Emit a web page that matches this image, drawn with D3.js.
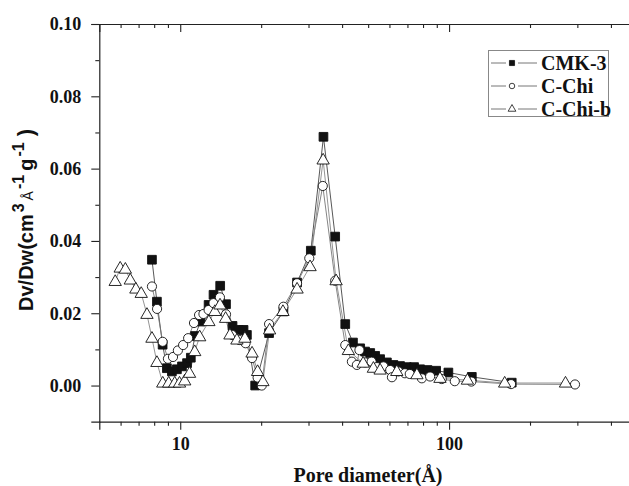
<!DOCTYPE html>
<html>
<head>
<meta charset="utf-8">
<script src="https://cdn.jsdelivr.net/npm/d3@7"></script>
<style>
  body { margin: 0; background: #fff; }
  svg { display: block; }
</style>
</head>
<body>
<script>
// constants
const w = 629;
const h = 486;

// data (pore diameter in Å, Dv/Dw)
const cmk3_d = [7.85, 8.19, 8.6, 8.92, 9.31, 9.72, 10.15, 10.6, 10.95, 11.35, 11.9, 12.75, 13.3, 14.08, 14.8, 15.65, 16.5, 17.2, 17.7, 19.0, 21.4, 24.2, 27.2, 30.6, 34.1, 37.7, 41.1, 43.9, 46.7, 48.7, 50.9, 53.1, 55.4, 58.7, 62.1, 65.7, 69.6, 74.1, 78.0, 83.1, 89.5, 99.4, 121.5, 171];
const cmk3_v = [0.0348, 0.0232, 0.0113, 0.0048, 0.0039, 0.0045, 0.0053, 0.0062, 0.0077, 0.0137, 0.0177, 0.0223, 0.0251, 0.0276, 0.0225, 0.0165, 0.0154, 0.0154, 0.0140, 0.0000, 0.0145, 0.0205, 0.0285, 0.0373, 0.0688, 0.0412, 0.0170, 0.0119, 0.0103, 0.0094, 0.0090, 0.0082, 0.0073, 0.0064, 0.0057, 0.0054, 0.0051, 0.0051, 0.0045, 0.0043, 0.0041, 0.0036, 0.0024, 0.0008];

const cchi_d = [7.85, 8.2, 8.6, 9.0, 9.4, 9.8, 10.25, 10.7, 11.25, 11.75, 12.2, 12.75, 13.3, 14.05, 14.8, 15.6, 16.6, 17.5, 18.5, 19.4, 20.1, 21.4, 24.2, 27.2, 30.2, 33.9, 37.7, 41.1, 43.5, 45.4, 46.4, 48.7, 51.5, 53.9, 57.0, 60.4, 61.3, 64.8, 68.5, 71.4, 79.2, 85, 93.9, 105, 121, 170, 294];
const cchi_v = [0.0274, 0.0212, 0.0121, 0.0074, 0.0079, 0.0097, 0.0112, 0.0131, 0.0173, 0.0195, 0.0198, 0.0209, 0.0228, 0.0244, 0.0197, 0.0140, 0.0126, 0.0117, 0.0076, 0.0022, 0.0000, 0.0170, 0.0218, 0.0283, 0.0352, 0.0552, 0.0290, 0.0112, 0.0066, 0.0057, 0.0098, 0.0064, 0.0066, 0.0051, 0.0053, 0.0043, 0.0023, 0.0039, 0.0034, 0.0032, 0.0020, 0.0025, 0.0018, 0.0012, 0.0011, 0.0004, 0.0003];

const cchib_d = [5.73, 5.98, 6.25, 6.52, 6.84, 7.16, 7.52, 7.85, 8.19, 8.61, 9.06, 9.54, 9.94, 10.39, 10.83, 11.32, 11.81, 12.78, 13.45, 14.06, 14.75, 15.31, 16.25, 17.4, 18.5, 19.4, 20.3, 21.5, 24.1, 27.2, 30.4, 34.0, 38.0, 42.2, 47.9, 52.3, 55.4, 63.9, 75.9, 92.5, 117, 161, 271];
const cchib_v = [0.0288, 0.0325, 0.0322, 0.0292, 0.0267, 0.0255, 0.0197, 0.0131, 0.0064, 0.0007, 0.0007, 0.0007, 0.0007, 0.0013, 0.0034, 0.0094, 0.0135, 0.0177, 0.0205, 0.0223, 0.0186, 0.0140, 0.0126, 0.0131, 0.0090, 0.0039, 0.0011, 0.0154, 0.0205, 0.0267, 0.0329, 0.0624, 0.0290, 0.0097, 0.0062, 0.0048, 0.0043, 0.0039, 0.0030, 0.0020, 0.0015, 0.0007, 0.0007];

const seriesNames = ["CMK-3", "C-Chi", "C-Chi-b"];
const xMajor = [10, 100];
const xMinor = [6, 7, 8, 9, 20, 30, 40, 50, 60, 70, 80, 90, 200, 300, 400];
const yMajor = [0.00, 0.02, 0.04, 0.06, 0.08, 0.10];
const yMinor = [0.01, 0.03, 0.05, 0.07, 0.09];

const series = [
  {name: seriesNames[0], d: cmk3_d, v: cmk3_v, sym: d3.symbolSquare, fill: "#111", line: "#444"},
  {name: seriesNames[1], d: cchi_d, v: cchi_v, sym: d3.symbolCircle, fill: "#fff", line: "#777"},
  {name: seriesNames[2], d: cchib_d, v: cchib_v, sym: d3.symbolTriangle, fill: "#fff", line: "#888"}
];

// scales
const xScale = d3.scaleLog().domain([5, 500]).range([99.3, 637]);
const yScale = d3.scaleLinear().domain([-0.01, 0.10]).range([421.7, 24]);

const svg = d3.select("body").append("svg")
  .attr("width", w)
  .attr("height", h);

// lines + points
const line = d3.line().x(p => xScale(p[0])).y(p => yScale(p[1]));

series.forEach(s => {
  const pts = s.d.map((d, i) => [d, s.v[i]]);
  svg.append("path")
    .attr("d", line(pts))
    .attr("fill", "none")
    .attr("stroke", s.line)
    .attr("stroke-width", 0.9);
});

series.forEach(s => {
  const pts = s.d.map((d, i) => [d, s.v[i]]);
  const size = s.sym === d3.symbolSquare ? 76 : (s.sym === d3.symbolCircle ? 66 : 66);
  svg.append("g").selectAll("path")
    .data(pts)
    .enter()
    .append("path")
    .attr("transform", p => "translate(" + xScale(p[0]) + "," + (yScale(p[1]) + (s.sym === d3.symbolTriangle ? 0.5 : 0)) + ")")
    .attr("d", d3.symbol().type(s.sym).size(size))
    .attr("fill", s.fill)
    .attr("stroke", "#111")
    .attr("stroke-width", 0.9);
});

// axes
const tickFont = g => g.selectAll("text")
  .attr("font-family", "'Liberation Serif', 'Times New Roman', serif")
  .attr("font-weight", "bold")
  .attr("font-size", 18)
  .attr("fill", "#111");

const axisStyle = g => {
  g.select(".domain").attr("stroke", "#222").attr("stroke-width", 1.2);
  g.selectAll(".tick line").attr("stroke", "#222").attr("stroke-width", 1.1);
};

// bottom
svg.append("g")
  .attr("transform", "translate(0," + yScale(-0.01) + ")")
  .call(d3.axisBottom(xScale).tickValues(xMajor).tickSize(8).tickPadding(8).tickFormat(d3.format("d")))
  .call(axisStyle)
  .call(tickFont);
svg.append("g")
  .attr("transform", "translate(0," + yScale(-0.01) + ")")
  .call(d3.axisBottom(xScale).tickValues(xMinor).tickSize(4).tickFormat(""))
  .call(g => g.select(".domain").remove())
  .call(axisStyle);

// top (ticks inside)
svg.append("g")
  .attr("transform", "translate(0," + yScale(0.10) + ")")
  .call(d3.axisTop(xScale).tickValues(xMajor).tickSize(-8).tickFormat(""))
  .call(axisStyle);
svg.append("g")
  .attr("transform", "translate(0," + yScale(0.10) + ")")
  .call(d3.axisTop(xScale).tickValues(xMinor).tickSize(-4).tickFormat(""))
  .call(g => g.select(".domain").remove())
  .call(axisStyle);

// left
svg.append("g")
  .attr("transform", "translate(" + xScale(5) + ",0)")
  .call(d3.axisLeft(yScale).tickValues(yMajor).tickSize(8).tickPadding(10).tickFormat(d3.format(".2f")))
  .call(axisStyle)
  .call(tickFont);
svg.append("g")
  .attr("transform", "translate(" + xScale(5) + ",0)")
  .call(d3.axisLeft(yScale).tickValues(yMinor).tickSize(4).tickFormat(""))
  .call(g => g.select(".domain").remove())
  .call(axisStyle);

// axis titles
svg.append("text")
  .attr("x", 368)
  .attr("y", 482)
  .attr("text-anchor", "middle")
  .attr("font-family", "'Liberation Serif', 'Times New Roman', serif")
  .attr("font-weight", "bold")
  .attr("font-size", 20)
  .attr("fill", "#111")
  .text("Pore diameter(Å)");

const ylab = svg.append("text")
  .attr("transform", "translate(33,220) rotate(-90)")
  .attr("text-anchor", "middle")
  .attr("font-family", "'Liberation Sans', Arial, sans-serif")
  .attr("font-weight", "bold")
  .attr("font-size", 20)
  .attr("fill", "#111");
ylab.append("tspan").text("Dv/Dw(cm");
ylab.append("tspan").attr("dx", 2).attr("dy", -9).attr("font-size", 16).text("3");
ylab.append("tspan").attr("dx", 3).attr("dy", 9).attr("font-size", 14).attr("font-weight", "normal").text("Å");
ylab.append("tspan").attr("dx", 2).attr("dy", -9).attr("font-size", 16).text("-1");
ylab.append("tspan").attr("dx", 4).attr("dy", 9).text("g");
ylab.append("tspan").attr("dx", 2).attr("dy", -9).attr("font-size", 16).text("-1");
ylab.append("tspan").attr("dx", 6).attr("dy", 9).attr("font-size", 22).text(")");

// legend
const legend = svg.append("g");
legend.append("rect")
  .attr("x", 488.5).attr("y", 50.5)
  .attr("width", 120).attr("height", 66)
  .attr("fill", "#fff")
  .attr("stroke", "#888")
  .attr("stroke-width", 1);

const legSizes = [26, 24, 26];
series.forEach((s, i) => {
  const cy = 63 + i * 23;
  legend.append("line")
    .attr("x1", 491).attr("x2", 506).attr("y1", cy).attr("y2", cy)
    .attr("stroke", "#666").attr("stroke-width", 0.9);
  legend.append("line")
    .attr("x1", 518).attr("x2", 537).attr("y1", cy).attr("y2", cy)
    .attr("stroke", "#666").attr("stroke-width", 0.9);
  legend.append("path")
    .attr("transform", "translate(512," + cy + ")")
    .attr("d", d3.symbol().type(s.sym).size(legSizes[i]))
    .attr("fill", s.fill)
    .attr("stroke", "#111")
    .attr("stroke-width", 0.8);
  legend.append("text")
    .attr("x", 541)
    .attr("y", cy + 7)
    .attr("font-family", "'Liberation Serif', 'Times New Roman', serif")
    .attr("font-weight", "bold")
    .attr("font-size", 20)
    .attr("fill", "#111")
    .text(s.name);
});
</script>
</body>
</html>
